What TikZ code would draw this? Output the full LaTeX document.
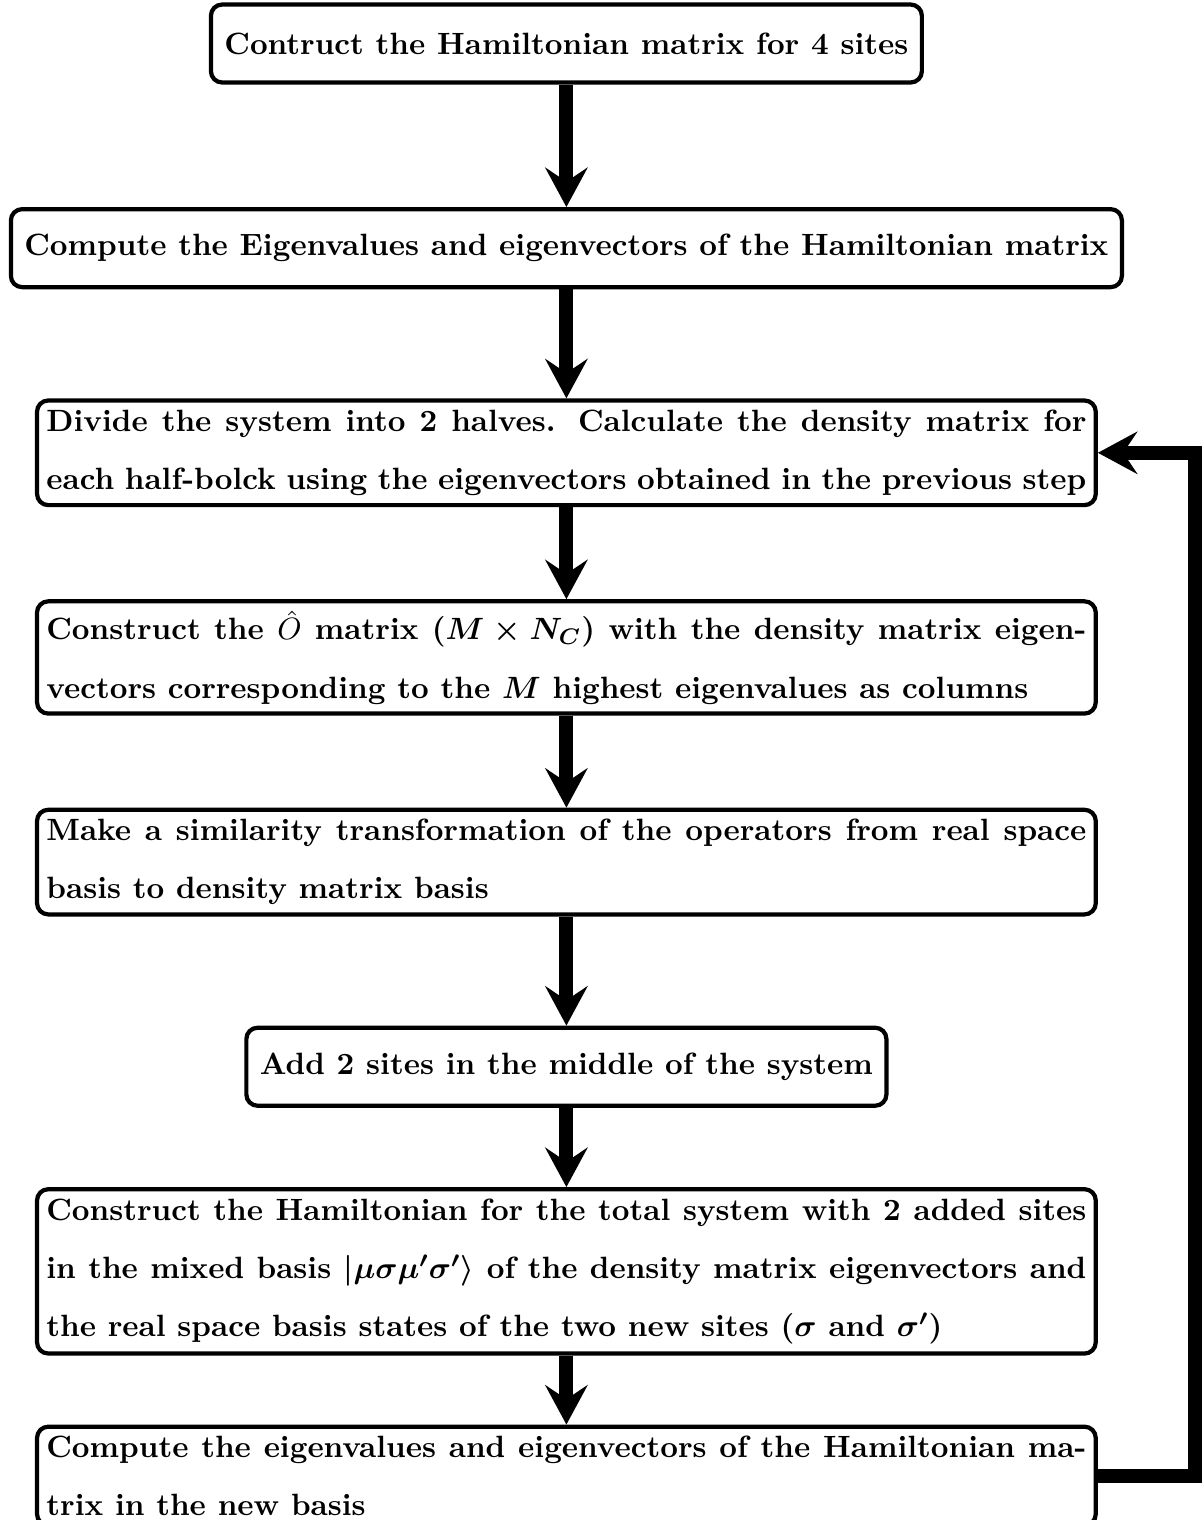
\documentclass[tikz,border=0pt]{standalone}
\usepackage{amsmath}
\usepackage{tikz}
\usetikzlibrary{arrows.meta, positioning}
\tikzset{
  stepbox/.style={rectangle, draw=black, line width=1.5pt, rounded corners=4pt,
    minimum height=0.975cm, inner xsep=4.8pt, inner ysep=3.33pt,
    font=\fontsize{10.95}{20.7}\selectfont\bfseries\boldmath},
  widebox/.style={stepbox, inner xsep=3.33pt, text width=13cm, align=justify},
  arrow/.style={-{Stealth[length=14pt, width=15pt, inset=5pt]}, line width=5pt, color=black}
}

\begin{document}
\begin{tikzpicture}[node distance=2.558cm, on grid]
  \useasboundingbox (-7.08, 0.544) rectangle (7.97, -18.456);
  % steps of the loop
  \node[stepbox] (ham) at (0,0) {Contruct the Hamiltonian matrix for 4 sites};
  \node[stepbox, below=of ham] (eig) {Compute the Eigenvalues and eigenvectors of the Hamiltonian matrix};
  \node[widebox, below=of eig] (dens) {Divide the system into 2 halves. Calculate the density matrix for each half-bolck using the eigenvectors obtained in the previous step};
  \node[widebox, below=of dens] (omat) {Construct the \mbox{\unboldmath$\hat{O}$} matrix ($M \times N_C$) with the density matrix eigenvectors corresponding to the $M$ highest eigenvalues as columns};
  \node[widebox, below=of omat] (sim) {Make a similarity transformation of the operators from real space basis to density matrix basis};
  \node[stepbox, below=of sim] (add) {Add 2 sites in the middle of the system};
  \node[widebox, below=of add] (mixed) {Construct the Hamiltonian for the total system with 2 added sites in the mixed basis $|\mu\sigma\mu'\sigma'\rangle$ of the density matrix eigenvectors and the real space basis states of the two new sites ($\sigma$ and $\sigma'$)};
  \node[widebox, below=of mixed] (neweig) {Compute the eigenvalues and eigenvectors of the Hamiltonian matrix in the new basis};

  % Arrows
  \foreach \a/\b in {ham/eig, eig/dens, dens/omat, omat/sim, sim/add, add/mixed, mixed/neweig}
    \draw[arrow] (\a) -- (\b);

  % loop back
  \coordinate (loop) at (7.86, 0);
  \draw[arrow] (neweig.east) -- (neweig.east -| loop) |- (dens.east);
\end{tikzpicture}
\end{document}
